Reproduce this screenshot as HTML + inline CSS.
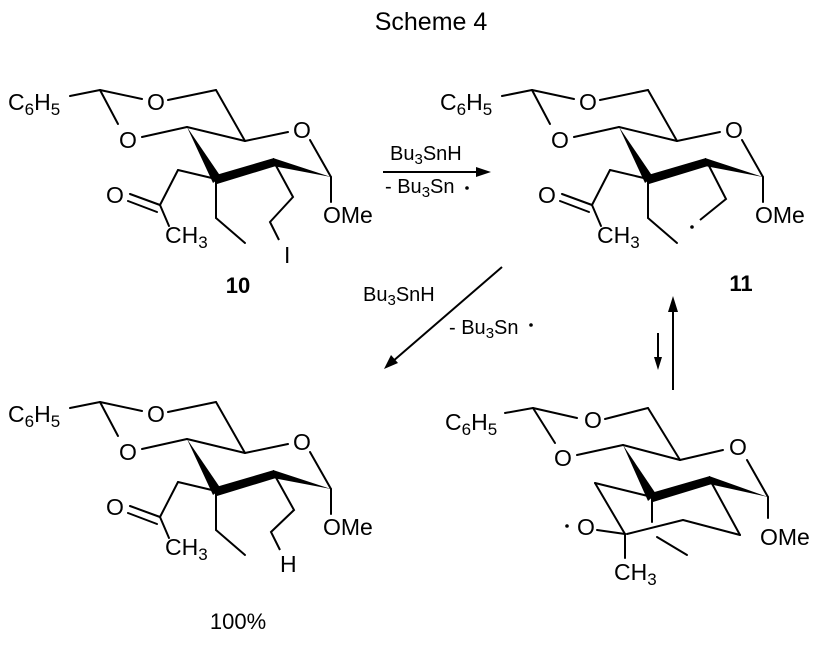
<!DOCTYPE html>
<html><head><meta charset="utf-8"><style>
html,body{margin:0;padding:0;background:#fff;}
svg{display:block;}
text{font-family:"Liberation Sans",Arial,sans-serif;fill:#000;}
</style></head><body>
<svg width="823" height="645" viewBox="0 0 823 645" xmlns="http://www.w3.org/2000/svg">
<defs>
<g id="core" stroke="#000" stroke-width="2" fill="none" stroke-linecap="round">
  <line x1="70" y1="96" x2="100" y2="90"/>
  <line x1="100" y1="90" x2="142" y2="99"/>
  <line x1="168" y1="100" x2="216" y2="90"/>
  <line x1="216" y1="90" x2="245" y2="141"/>
  <line x1="100" y1="90" x2="118" y2="124"/>
  <line x1="142" y1="137" x2="187" y2="127"/>
  <line x1="187" y1="127" x2="245" y2="141"/>
  <line x1="245" y1="141" x2="288" y2="132"/>
  <line x1="310" y1="140" x2="331" y2="177"/>
  <line x1="331" y1="177" x2="331" y2="202"/>
  <polygon points="187,127 213,183 221,177" fill="#000" stroke="none"/>
  <polygon points="216,175 274,158 276,166 217,184" fill="#000" stroke="none"/>
  <polygon points="273,158 331,177 273,166" fill="#000" stroke="none"/>
  <line x1="216" y1="179" x2="216" y2="218"/>
  <line x1="216" y1="218" x2="245" y2="243"/>
  <line x1="216" y1="179" x2="178" y2="170"/>
  <line x1="178" y1="170" x2="160" y2="205"/>
  <line x1="160" y1="205" x2="130" y2="194"/>
  <line x1="157" y1="212" x2="128" y2="201"/>
  <line x1="160" y1="205" x2="169" y2="226"/>
</g>
<g id="labels" font-size="23">
  <text x="8" y="110">C<tspan font-size="17" dy="5">6</tspan><tspan dy="-5">H</tspan><tspan font-size="17" dy="5">5</tspan></text>
  <text x="147" y="110">O</text>
  <text x="119" y="148">O</text>
  <text x="293" y="138">O</text>
  <text x="106" y="203">O</text>
  <text x="165" y="243">CH<tspan font-size="17" dy="5">3</tspan></text>
  <text x="323" y="223">OMe</text>
</g>
</defs>

<text x="431" y="30" font-size="25" text-anchor="middle">Scheme 4</text>

<!-- 10 -->
<use href="#core"/><use href="#labels"/>
<g stroke="#000" stroke-width="2" fill="none"><polyline points="274,162 293,197 270,222 279,240"/></g>
<text x="284" y="263" font-size="23">I</text>
<text x="238" y="293" font-size="22" font-weight="bold" text-anchor="middle">10</text>

<!-- 11 -->
<g transform="translate(432,0)"><use href="#core"/><use href="#labels"/>
<g stroke="#000" stroke-width="2" fill="none"><polyline points="275,162 294,199 268,220"/></g>
<circle cx="260" cy="227" r="1.8" fill="#000"/></g>
<text x="741" y="291" font-size="22" font-weight="bold" text-anchor="middle">11</text>

<!-- 100% product -->
<g transform="translate(0,312)"><use href="#core"/><use href="#labels"/>
<g stroke="#000" stroke-width="2" fill="none"><polyline points="274,162 294,198 271,220 280,238"/></g>
<text x="280" y="260" font-size="23">H</text></g>
<text x="238" y="629" font-size="22" text-anchor="middle">100%</text>

<!-- arrows -->
<g stroke="#000" stroke-width="2" fill="none">
  <line x1="383" y1="172" x2="482" y2="172"/>
  <line x1="502" y1="267" x2="392" y2="362"/>
  <line x1="673" y1="302" x2="673" y2="390"/>
  <line x1="658" y1="333" x2="658" y2="362"/>
</g>
<polygon points="491,172 476,167 476,177" fill="#000"/>
<polygon points="384,369 391,355 398,363" fill="#000"/>
<polygon points="673,296 668,312 678,312" fill="#000"/>
<polygon points="658,370 654,357 662,357" fill="#000"/>
<g font-size="20">
<text x="390" y="160">Bu<tspan font-size="15" dy="4">3</tspan><tspan dy="-4">SnH</tspan></text>
<text x="385" y="193">- Bu<tspan font-size="15" dy="4">3</tspan><tspan dy="-4">Sn</tspan></text>
<text x="363" y="301">Bu<tspan font-size="15" dy="4">3</tspan><tspan dy="-4">SnH</tspan></text>
<text x="449" y="334">- Bu<tspan font-size="15" dy="4">3</tspan><tspan dy="-4">Sn</tspan></text>
</g>
<circle cx="467" cy="188" r="1.8" fill="#000"/>
<circle cx="531" cy="325" r="1.8" fill="#000"/>

<!-- bottom right bicyclic radical -->
<g stroke="#000" stroke-width="2" fill="none" stroke-linecap="round">
  <line x1="505" y1="413" x2="533" y2="408"/>
  <line x1="533" y1="408" x2="577" y2="418"/>
  <line x1="605" y1="419" x2="648" y2="408"/>
  <line x1="648" y1="408" x2="680" y2="460"/>
  <line x1="533" y1="408" x2="555" y2="443"/>
  <line x1="577" y1="455" x2="623" y2="445"/>
  <line x1="623" y1="445" x2="680" y2="460"/>
  <line x1="680" y1="460" x2="723" y2="450"/>
  <line x1="747" y1="460" x2="768" y2="497"/>
  <line x1="768" y1="497" x2="768" y2="518"/>
  <line x1="710" y1="480" x2="740" y2="535"/>
  <line x1="740" y1="535" x2="683" y2="520"/>
  <line x1="683" y1="520" x2="627" y2="534"/>
  <line x1="652" y1="497" x2="595" y2="483"/>
  <line x1="595" y1="483" x2="625" y2="534"/>
  <line x1="652" y1="497" x2="652" y2="522"/>
  <line x1="657" y1="537" x2="687" y2="555"/>
  <line x1="597" y1="530" x2="625" y2="534"/>
  <line x1="625" y1="534" x2="625" y2="558"/>
  <polygon points="623,445 648,501 656,494" fill="#000" stroke="none"/>
  <polygon points="651,493 710,476 712,484 653,502" fill="#000" stroke="none"/>
  <polygon points="709,476 768,497 709,484" fill="#000" stroke="none"/>
</g>
<g font-size="23">
  <text x="445" y="430">C<tspan font-size="17" dy="5">6</tspan><tspan dy="-5">H</tspan><tspan font-size="17" dy="5">5</tspan></text>
  <text x="584" y="428">O</text>
  <text x="554" y="466">O</text>
  <text x="729" y="455">O</text>
  <text x="760" y="545">OMe</text>
  <text x="577" y="535">O</text>
  <text x="614" y="580">CH<tspan font-size="17" dy="5">3</tspan></text>
</g>
<circle cx="567" cy="526" r="1.8" fill="#000"/>
</svg>
</body></html>
